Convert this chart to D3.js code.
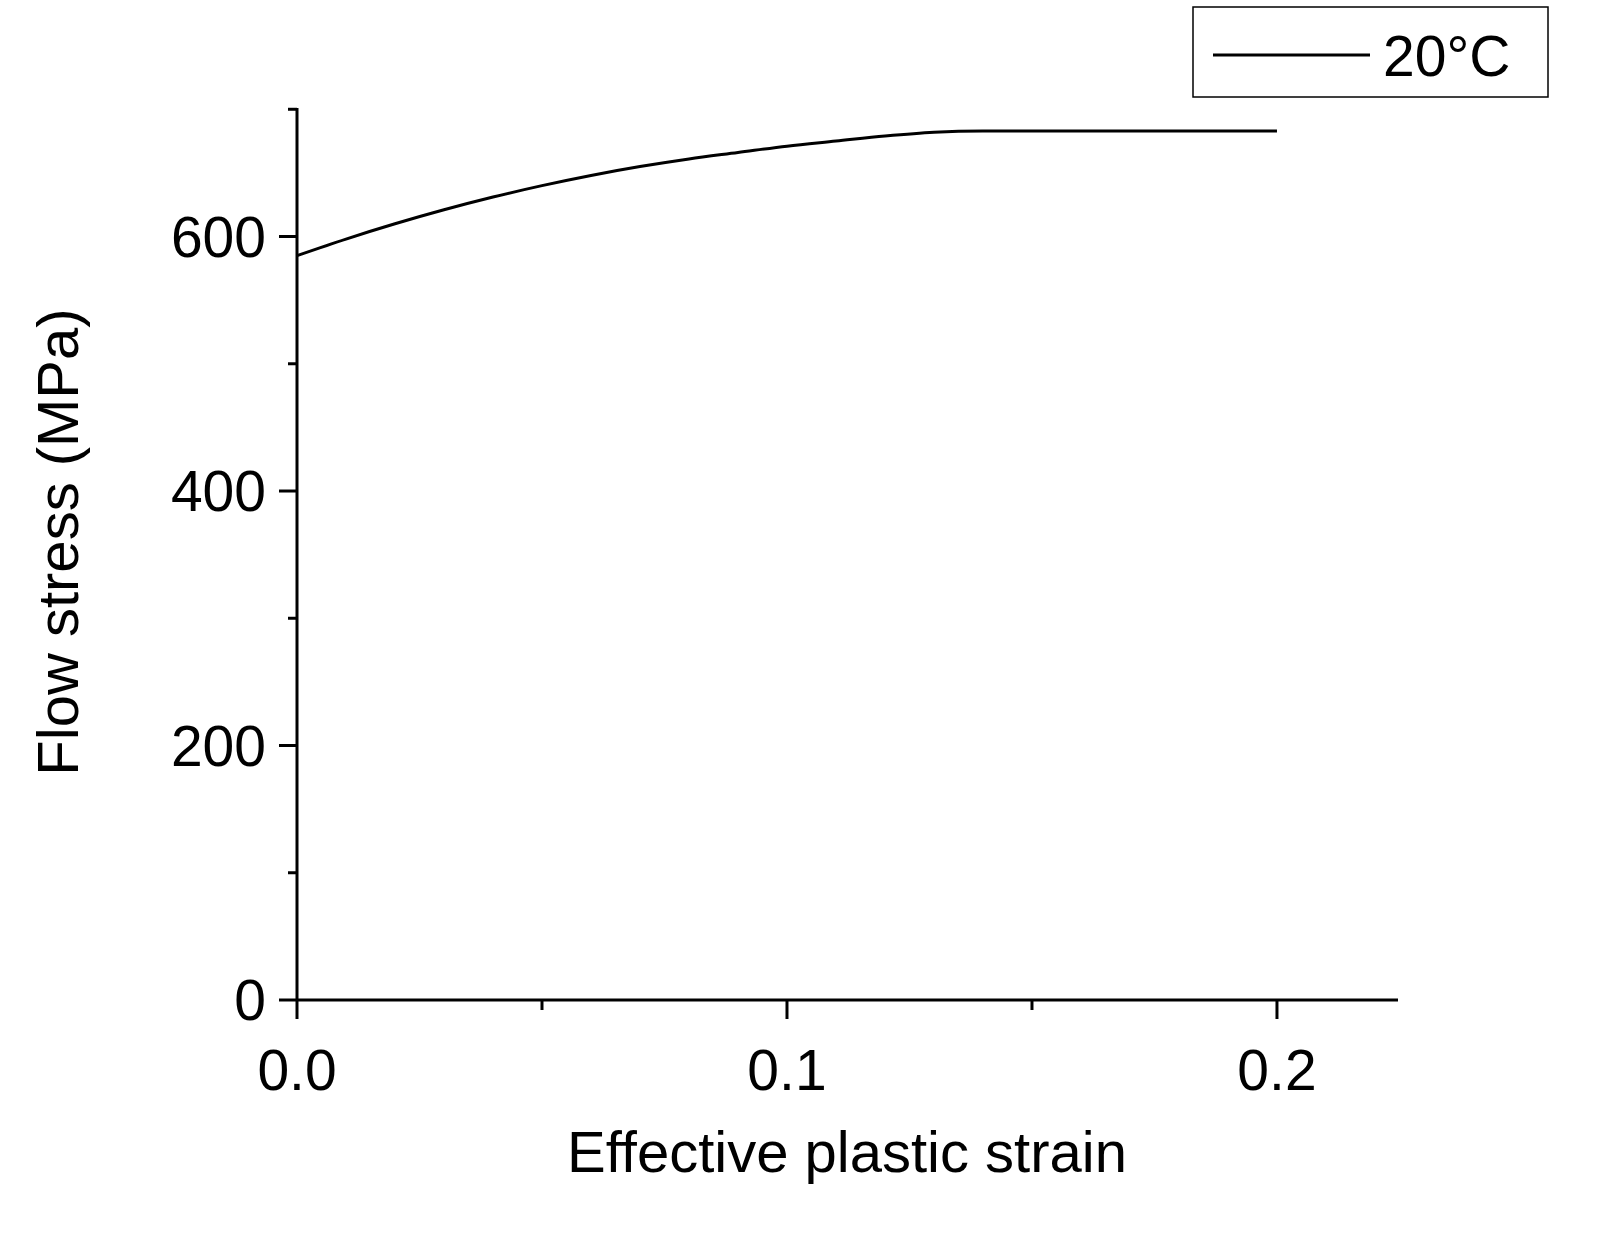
<!DOCTYPE html>
<html><head><meta charset="utf-8">
<script src="https://cdn.jsdelivr.net/npm/d3@7"></script>
<style>body{margin:0;background:#fff}text{font-family:"Liberation Sans",Arial,sans-serif}</style>
</head><body><div id="chart"></div>
<script>
const strain = [0, 0.01, 0.02, 0.03, 0.04, 0.05, 0.06, 0.07, 0.08, 0.09, 0.1, 0.11, 0.12, 0.13, 0.14, 0.2];
const stress = [585, 598, 610, 621, 631, 640, 648, 655, 661, 666, 671, 675, 679, 682, 683, 683];
const seriesName = '20°C';
const xTicks = [0, 0.1, 0.2];
const yTicks = [0, 200, 400, 600];

const W = 1607, H = 1233;
const svg = d3.select('#chart').append('svg').attr('width', W).attr('height', H);
const x = d3.scaleLinear().domain([0, 0.2247]).range([297, 1398]);
const y = d3.scaleLinear().domain([0, 701]).range([1000, 108]);

// minor ticks
svg.append('g').selectAll('line').data(d3.range(0, 701, 100)).enter().append('line')
    .attr('x1', 297).attr('x2', d => yTicks.includes(d) ? 279 : 288)
    .attr('y1', d => y(d)).attr('y2', d => y(d)).attr('stroke', '#000').attr('stroke-width', 3);
svg.append('g').selectAll('line').data([0, 0.05, 0.1, 0.15, 0.2]).enter().append('line')
    .attr('y1', 1000).attr('y2', (d, i) => i % 2 ? 1010 : 1019)
    .attr('x1', d => x(d)).attr('x2', d => x(d)).attr('stroke', '#000').attr('stroke-width', 3);

// axes
svg.append('line').attr('x1', 297).attr('x2', 297).attr('y1', 108).attr('y2', 1001).attr('stroke', '#000').attr('stroke-width', 3);
svg.append('line').attr('x1', 296).attr('x2', 1398).attr('y1', 1000).attr('y2', 1000).attr('stroke', '#000').attr('stroke-width', 3);

svg.append('g').selectAll('text').data(yTicks).enter().append('text')
    .attr('x', 266).attr('y', d => y(d) + 20).attr('text-anchor', 'end').attr('font-size', 57).text(d => d);
svg.append('g').selectAll('text').data(xTicks).enter().append('text')
    .attr('x', d => x(d)).attr('y', 1090).attr('text-anchor', 'middle').attr('font-size', 57).text(d => d.toFixed(1));

svg.append('text').attr('x', 847).attr('y', 1172).attr('text-anchor', 'middle').attr('font-size', 58).text('Effective plastic strain');
svg.append('text').attr('transform', 'translate(78,542) rotate(-90)').attr('text-anchor', 'middle').attr('font-size', 58).text('Flow stress (MPa)');

// line
svg.append('path').datum(strain.map((s, i) => [s, stress[i]]))
    .attr('d', d3.line().curve(d3.curveMonotoneX).x(d => x(d[0])).y(d => y(d[1])))
    .attr('fill', 'none').attr('stroke', '#000').attr('stroke-width', 3);

// legend
svg.append('rect').attr('x', 1193).attr('y', 7).attr('width', 355).attr('height', 90)
    .attr('fill', '#fff').attr('stroke', '#000').attr('stroke-width', 1.5);
svg.append('line').attr('x1', 1213).attr('x2', 1370).attr('y1', 55).attr('y2', 55).attr('stroke', '#000').attr('stroke-width', 3);
svg.append('text').attr('x', 1383).attr('y', 76).attr('font-size', 57).text(seriesName);
</script></body></html>
